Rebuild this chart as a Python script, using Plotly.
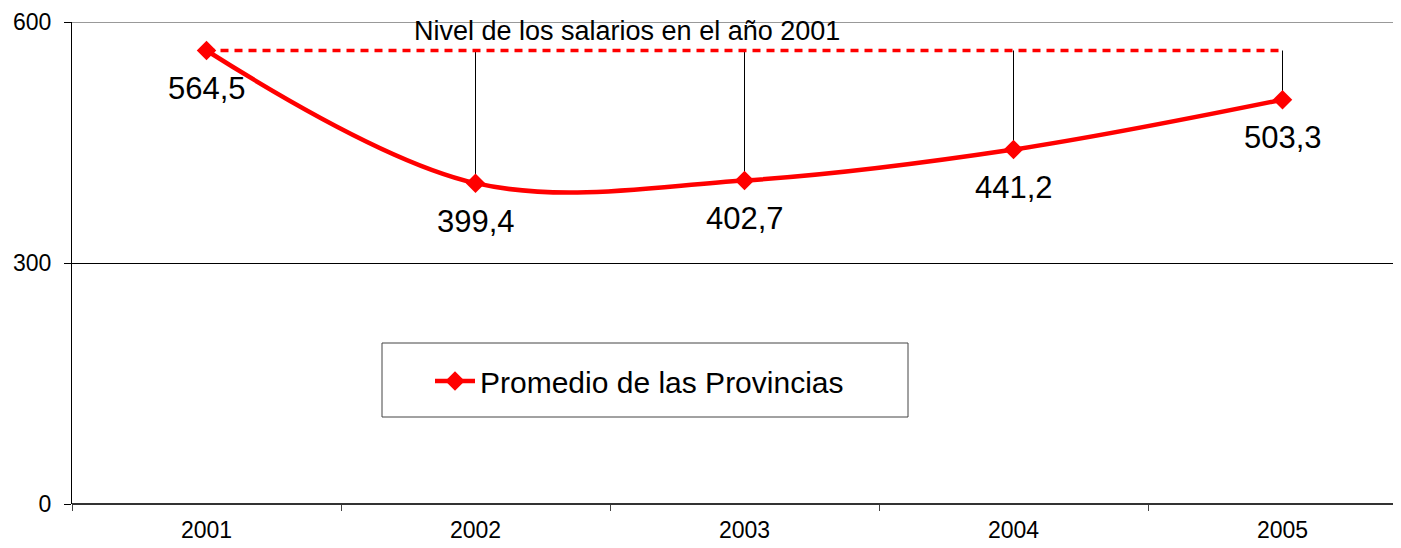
import plotly.graph_objects as go

# data
anios = ['2001', '2002', '2003', '2004', '2005']
salarios = [564.5, 399.4, 402.7, 441.2, 503.3]
etiquetas = ['564,5', '399,4', '402,7', '441,2', '503,3']
nivel_2001 = salarios[0]
y_ticks = [0, 300, 600]

fig = go.Figure()

# main series first so the category order is fixed
fig.add_trace(go.Scatter(x=anios, y=salarios, mode='lines+markers',
                         name='Promedio de las Provincias',
                         line=dict(color='#ff0000', width=4.5, shape='spline', smoothing=1),
                         marker=dict(symbol='diamond', size=15, color='#ff0000')))

# thin black drop lines from the 2001 level down to each year's value
for a, v in zip(anios[1:], salarios[1:]):
    fig.add_trace(go.Scatter(x=[a, a], y=[nivel_2001, v], mode='lines',
                             line=dict(color='black', width=1),
                             showlegend=False, hoverinfo='skip'))

# dotted red line: level of 2001
fig.add_trace(go.Scatter(x=[anios[0], anios[-1]], y=[nivel_2001, nivel_2001],
                         mode='lines', line=dict(color='#ff0000', width=3.5, dash='8px,6px'),
                         showlegend=False, hoverinfo='skip'))

# put the main series back on top
fig.data = (fig.data[1:] + fig.data[:1])

# value labels under each point
for i, (v, t) in enumerate(zip(salarios, etiquetas)):
    fig.add_annotation(x=i, y=v, xref='x', yref='y', text=t, showarrow=False, yshift=-38,
                       font=dict(size=31, color='black'))

# plot area: x from 72 to 1409 in window pixels (clipped at 1401), y from 22 to 504
PW = 1337.0
fig.add_annotation(x=(627 - 72) / PW, xref='paper', y=600, yref='y', yshift=-9,
                   text='Nivel de los salarios en el año 2001', showarrow=False,
                   font=dict(size=27, color='black'))

# gray top border at 600
fig.add_shape(type='line', xref='paper', yref='y', x0=0, x1=1, y0=600, y1=600,
              line=dict(color='#999999', width=2))

# legend box
fig.add_shape(type='rect', xref='paper', yref='paper',
              x0=(382 - 72) / PW, x1=(908 - 72) / PW,
              y0=(504 - 417) / 482, y1=(504 - 343) / 482,
              line=dict(color='#444444', width=1), fillcolor='white', layer='below')

# the page adds an 8px body margin on the left and top
fig.update_layout(
    width=1401, height=540,
    margin=dict(l=64, r=0, t=14, b=44, autoexpand=False),
    paper_bgcolor='white', plot_bgcolor='white',
    font=dict(family='Arial, Liberation Sans, sans-serif', color='black'),
    legend=dict(x=(430 - 72) / PW, y=(504 - 355) / 482, xanchor='left', yanchor='top',
                bgcolor='rgba(0,0,0,0)', borderwidth=0,
                font=dict(size=30, color='black'), itemwidth=40),
    xaxis=dict(type='category', categoryorder='array', categoryarray=anios,
               range=[-0.5, -0.5 + PW / 269], tickson='boundaries', automargin=False,
               ticks='outside', ticklen=6, tickcolor='#444444', ticklabelstandoff=10,
               showline=False, showgrid=False, zeroline=False,
               tickfont=dict(size=23)),
    yaxis=dict(range=[0, 600], tickvals=y_ticks, ticks='outside', ticklen=7,
               tickcolor='black', showline=True, linecolor='black', linewidth=1,
               showgrid=True, gridcolor='black', gridwidth=1, automargin=False,
               zeroline=True, zerolinecolor='#333333', zerolinewidth=2,
               ticklabelstandoff=8, tickfont=dict(size=23)),
)

fig.write_html('out.html')
